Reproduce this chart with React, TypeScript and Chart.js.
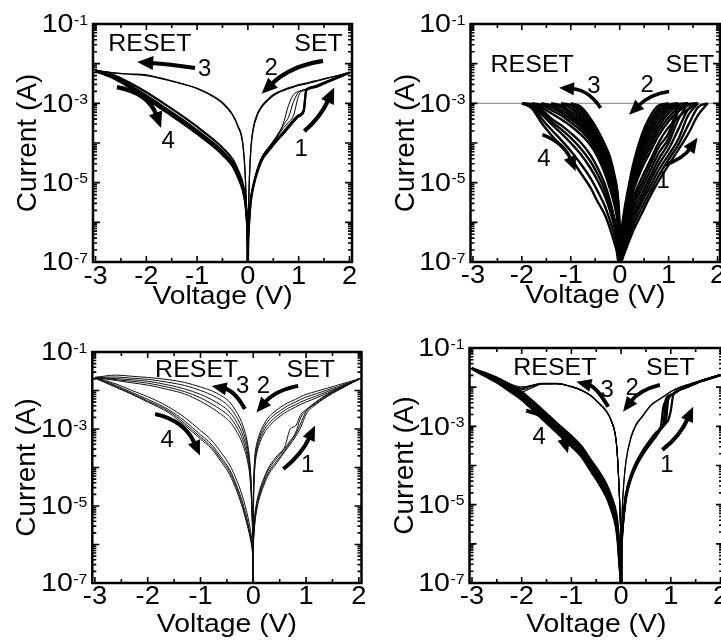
import React, { useEffect, useRef } from "react";
import { Chart, registerables } from "chart.js";

Chart.register(...registerables);

const FONT = '"Liberation Sans", Arial, Helvetica, sans-serif';

// ---------- axes / tick labels ----------
const X_MIN = -3.05;
const X_MAX = 2.05;
const Y_MIN = 1e-7;
const Y_MAX = 1e-1;
const X_TICKS = [-3, -2, -1, 0, 1, 2];
const X_TICK_LABELS = ["-3", "-2", "-1", "0", "1", "2"];
const X_MINOR_TICKS = [-2.5, -1.5, -0.5, 0.5, 1.5];
const Y_DECADES = [1e-7, 1e-6, 1e-5, 1e-4, 1e-3, 1e-2, 1e-1];
const Y_MINOR_MULT = [2, 3, 4, 5, 6, 7, 8, 9];
const Y_LABEL_VALUES = [1e-1, 1e-3, 1e-5, 1e-7];
const Y_LABEL_EXPONENTS = ["-1", "-3", "-5", "-7"];
const X_TITLE = "Voltage (V)";
const Y_TITLE = "Current (A)";

// ---------- data: voltage (V) grids and log10 of current (A) ----------
// Panel 1 (top-left)
const p1VPos = [0.0005, 0.002, 0.01, 0.03, 0.06, 0.1, 0.2, 0.3, 0.4, 0.5, 0.6, 0.7, 0.8, 0.9, 1.0, 1.1, 1.15, 1.3, 1.5, 1.7, 2.0];
const p1VNeg = [-0.0005, -0.002, -0.01, -0.03, -0.05, -0.1, -0.2, -0.3, -0.5, -0.7, -1.0, -1.3, -1.6, -2.0, -2.3, -2.6, -3.0];
const p1LrsPos = [
  [-7.5, -6.9, -5.89, -4.85, -4.1, -3.65, -3.22, -3.02, -2.89, -2.78, -2.71, -2.66, -2.61, -2.57, -2.53, -2.5, -2.49, -2.44, -2.38, -2.32, -2.22],
  [-7.5, -6.95, -5.95, -4.9, -4.15, -3.7, -3.26, -3.05, -2.92, -2.81, -2.73, -2.68, -2.63, -2.59, -2.55, -2.52, -2.51, -2.46, -2.39, -2.33, -2.22],
];
const p1SetMain = [
  [-7.5, -6.8, -6.3, -5.85, -5.4, -5.1, -4.63, -4.33, -4.17, -4.01, -3.87, -3.72, -3.57, -3.42, -3.3, -3.17, -2.65, -2.58, -2.48, -2.38, -2.23],
  [-7.5, -6.85, -6.35, -5.9, -5.45, -5.15, -4.68, -4.38, -4.21, -4.05, -3.9, -3.76, -3.61, -3.46, -3.33, -3.2, -2.67, -2.6, -2.5, -2.39, -2.23],
];
const p1SetThin = [
  [-7.5, -6.8, -6.3, -5.85, -5.4, -5.1, -4.6, -4.3, -4.12, -3.95, -3.75, -3.55, -3.35, -2.95, -2.72, -2.66, -2.64, -2.57, -2.47, -2.37, -2.23],
  [-7.5, -6.8, -6.3, -5.85, -5.4, -5.1, -4.62, -4.32, -4.14, -3.98, -3.8, -3.62, -3.48, -3.3, -2.8, -2.68, -2.66, -2.59, -2.48, -2.38, -2.23],
  [-7.5, -6.8, -6.3, -5.85, -5.4, -5.1, -4.6, -4.3, -4.12, -3.96, -3.78, -3.5, -3.05, -2.78, -2.7, -2.66, -2.64, -2.58, -2.47, -2.37, -2.23],
];
const p1LrsNeg = [
  [-7.5, -7.0, -6.4, -5.6, -4.85, -4.0, -3.55, -3.28, -2.98, -2.8, -2.62, -2.5, -2.4, -2.28, -2.26, -2.24, -2.17],
  [-7.5, -7.0, -6.45, -5.65, -4.9, -4.05, -3.58, -3.3, -3.0, -2.82, -2.63, -2.51, -2.41, -2.3, -2.27, -2.24, -2.17],
];
const p1HrsNeg = [
  [-7.5, -6.6, -6.1, -5.72, -5.45, -5.12, -4.76, -4.5, -4.21, -3.98, -3.68, -3.4, -3.14, -2.8, -2.56, -2.35, -2.18],
  [-7.5, -6.55, -6.05, -5.65, -5.38, -5.03, -4.67, -4.41, -4.12, -3.89, -3.59, -3.31, -3.05, -2.72, -2.5, -2.31, -2.17],
  [-7.5, -6.65, -6.15, -5.8, -5.53, -5.2, -4.85, -4.59, -4.3, -4.07, -3.77, -3.49, -3.23, -2.88, -2.63, -2.4, -2.19],
  [-7.5, -6.62, -6.12, -5.76, -5.49, -5.16, -4.8, -4.55, -4.26, -4.03, -3.73, -3.45, -3.19, -2.84, -2.6, -2.38, -2.18],
];

// Panel 2 (top-right), 1 mA compliance
const p2ComplianceV = [-3.05, 2.05];
const p2ComplianceLog = [-3, -3];
const p2VNeg = [-0.0005, -0.002, -0.01, -0.03, -0.06, -0.1, -0.2, -0.3, -0.45, -0.6, -0.8, -1.0, -1.2, -1.4, -1.6, -1.8, -2.0];
const p2VPos = [0.0005, 0.002, 0.01, 0.03, 0.06, 0.1, 0.2, 0.3, 0.45, 0.6, 0.8, 1.0, 1.2, 1.4, 1.6, 1.8, 2.0];
const p2LrsNeg = [
  [-7.5, -6.6, -5.9, -5.45, -5.1, -4.85, -4.35, -4.05, -3.68, -3.38, -3.08, -3.0],
  [-7.5, -6.65, -5.98, -5.52, -5.17, -4.92, -4.42, -4.12, -3.75, -3.45, -3.14, -3.0],
  [-7.5, -6.7, -6.05, -5.6, -5.25, -5.0, -4.5, -4.2, -3.82, -3.52, -3.2, -3.0],
  [-7.5, -6.75, -6.12, -5.68, -5.33, -5.06, -4.58, -4.27, -3.89, -3.59, -3.28, -3.05, -3.0],
  [-7.5, -6.8, -6.2, -5.75, -5.4, -5.12, -4.65, -4.33, -3.95, -3.65, -3.35, -3.12, -3.0],
  [-7.5, -6.82, -6.28, -5.82, -5.48, -5.2, -4.72, -4.4, -4.01, -3.71, -3.41, -3.2, -3.05, -3.0],
  [-7.5, -6.85, -6.35, -5.9, -5.55, -5.27, -4.8, -4.46, -4.07, -3.77, -3.48, -3.27, -3.1, -3.0],
  [-7.5, -6.88, -6.42, -5.98, -5.62, -5.35, -4.88, -4.53, -4.12, -3.82, -3.54, -3.33, -3.17, -3.05, -3.0],
  [-7.5, -6.9, -6.5, -6.05, -5.7, -5.42, -4.95, -4.6, -4.18, -3.87, -3.6, -3.4, -3.23, -3.1, -3.0],
  [-7.5, -6.95, -6.55, -6.12, -5.78, -5.5, -5.05, -4.68, -4.26, -3.95, -3.68, -3.48, -3.3, -3.17, -3.04, -3.0],
  [-7.5, -7.0, -6.6, -6.2, -5.85, -5.6, -5.15, -4.78, -4.35, -4.05, -3.78, -3.57, -3.4, -3.25, -3.1, -3.0],
];
const p2HrsNeg = [
  [-7.5, -7.1, -6.9, -6.5, -6.2, -5.95, -5.45, -5.05, -4.63, -4.3, -3.98, -3.75, -3.55, -3.38, -3.15, -3.0],
  [-7.5, -7.15, -6.95, -6.6, -6.3, -6.05, -5.58, -5.2, -4.79, -4.46, -4.13, -3.87, -3.65, -3.45, -3.21, -3.0],
  [-7.5, -7.2, -7.0, -6.7, -6.4, -6.15, -5.7, -5.35, -4.95, -4.63, -4.28, -4.0, -3.75, -3.52, -3.27, -3.02, -3.0],
  [-7.5, -7.25, -7.1, -6.85, -6.6, -6.35, -5.95, -5.6, -5.22, -4.88, -4.52, -4.2, -3.92, -3.66, -3.38, -3.06, -3.0],
  [-7.5, -7.3, -7.2, -7.0, -6.74, -6.55, -6.15, -5.82, -5.48, -5.12, -4.75, -4.38, -4.07, -3.8, -3.49, -3.12, -3.0],
];
const p2LrsPos = [
  [-7.5, -7.0, -6.8, -6.4, -6.0, -5.65, -4.98, -4.42, -3.8, -3.38, -3.05, -3.0],
  [-7.5, -7.0, -6.82, -6.45, -6.05, -5.72, -5.05, -4.51, -3.9, -3.49, -3.12, -3.0],
  [-7.5, -7.0, -6.85, -6.5, -6.1, -5.8, -5.12, -4.6, -4.0, -3.6, -3.2, -3.0],
  [-7.5, -7.05, -6.88, -6.52, -6.15, -5.85, -5.2, -4.69, -4.1, -3.7, -3.29, -3.04, -3.0],
  [-7.5, -7.1, -6.9, -6.55, -6.2, -5.9, -5.27, -4.78, -4.2, -3.8, -3.38, -3.1, -3.0],
  [-7.5, -7.1, -6.9, -6.58, -6.24, -5.95, -5.33, -4.86, -4.31, -3.91, -3.48, -3.17, -3.02, -3.0],
  [-7.5, -7.1, -6.9, -6.6, -6.28, -6.0, -5.4, -4.95, -4.42, -4.03, -3.58, -3.25, -3.05, -3.0],
  [-7.5, -7.15, -6.92, -6.65, -6.33, -6.05, -5.47, -5.03, -4.53, -4.15, -3.69, -3.35, -3.12, -3.02, -3.0],
  [-7.5, -7.2, -6.95, -6.7, -6.38, -6.1, -5.55, -5.12, -4.65, -4.28, -3.8, -3.45, -3.2, -3.05, -3.0],
  [-7.5, -7.2, -7.0, -6.75, -6.45, -6.2, -5.65, -5.3, -4.88, -4.5, -3.98, -3.6, -3.35, -3.15, -3.0],
];
const p2Set = [
  [-7.5, -7.2, -7.1, -6.9, -6.7, -6.45, -5.8, -5.42, -5.02, -4.62, -4.1, -3.75, -3.0],
  [-7.5, -7.2, -7.1, -6.92, -6.74, -6.5, -5.9, -5.53, -5.15, -4.76, -4.25, -3.88, -3.2, -3.0],
  [-7.5, -7.2, -7.1, -6.95, -6.78, -6.55, -6.0, -5.65, -5.28, -4.9, -4.4, -4.0, -3.4, -3.0],
  [-7.5, -7.25, -7.12, -6.97, -6.8, -6.6, -6.1, -5.78, -5.39, -5.02, -4.54, -4.15, -3.65, -3.15, -3.0],
  [-7.5, -7.3, -7.15, -7.0, -6.85, -6.65, -6.2, -5.9, -5.5, -5.15, -4.68, -4.3, -3.9, -3.3, -3.0],
  [-7.5, -7.3, -7.18, -7.02, -6.88, -6.7, -6.32, -6.02, -5.64, -5.28, -4.82, -4.42, -4.04, -3.55, -3.1, -3.0],
  [-7.5, -7.3, -7.2, -7.05, -6.9, -6.77, -6.45, -6.15, -5.78, -5.4, -4.95, -4.55, -4.17, -3.77, -3.3, -3.0],
];

// Panel 3 (bottom-left)
const p3VNeg = [-0.0005, -0.002, -0.01, -0.03, -0.06, -0.1, -0.2, -0.3, -0.45, -0.6, -0.8, -1.0, -1.3, -1.6, -2.0, -2.3, -2.6, -3.0];
const p3VPos = [0.0005, 0.002, 0.01, 0.03, 0.06, 0.1, 0.2, 0.3, 0.45, 0.6, 0.7, 0.8, 0.9, 1.0, 1.2, 1.4, 1.6, 1.8, 2.0];
const p3LrsNeg = [
  [-7.5, -6.4, -5.6, -4.69, -3.95, -3.45, -2.9, -2.6, -2.3, -2.14, -2.0, -1.91, -1.79, -1.72, -1.66, -1.63, -1.6, -1.66],
  [-7.5, -6.48, -5.68, -4.77, -4.04, -3.56, -3.03, -2.73, -2.43, -2.26, -2.11, -2.0, -1.87, -1.79, -1.71, -1.68, -1.65, -1.66],
  [-7.5, -6.55, -5.75, -4.85, -4.13, -3.68, -3.16, -2.86, -2.56, -2.39, -2.23, -2.1, -1.96, -1.86, -1.76, -1.72, -1.69, -1.66],
  [-7.5, -6.62, -5.82, -4.92, -4.22, -3.8, -3.28, -2.98, -2.68, -2.51, -2.34, -2.19, -2.03, -1.92, -1.81, -1.76, -1.72, -1.66],
  [-7.5, -6.7, -5.9, -5.0, -4.3, -3.9, -3.4, -3.1, -2.8, -2.63, -2.44, -2.28, -2.09, -1.98, -1.86, -1.8, -1.74, -1.66],
];
const p3HrsNeg = [
  [-7.5, -6.3, -6.05, -5.83, -5.58, -5.3, -4.77, -4.38, -3.93, -3.63, -3.28, -3.04, -2.7, -2.43, -2.16, -2.0, -1.83, -1.66],
  [-7.5, -6.4, -6.15, -5.95, -5.72, -5.45, -4.92, -4.52, -4.05, -3.75, -3.39, -3.15, -2.79, -2.5, -2.23, -2.05, -1.87, -1.66],
  [-7.5, -6.45, -6.2, -6.0, -5.77, -5.52, -5.0, -4.59, -4.11, -3.81, -3.45, -3.21, -2.85, -2.54, -2.27, -2.08, -1.9, -1.67],
  [-7.5, -6.5, -6.25, -6.05, -5.82, -5.58, -5.07, -4.66, -4.18, -3.87, -3.5, -3.26, -2.9, -2.58, -2.3, -2.1, -1.92, -1.68],
];
const p3LrsPos = [
  [-7.5, -5.5, -4.3, -3.7, -3.42, -3.2, -2.88, -2.68, -2.5, -2.36, -2.29, -2.23, -2.16, -2.1, -2.02, -1.94, -1.86, -1.78, -1.7],
  [-7.5, -5.6, -4.4, -3.8, -3.5, -3.28, -2.96, -2.76, -2.58, -2.44, -2.36, -2.3, -2.23, -2.17, -2.08, -1.99, -1.9, -1.8, -1.71],
  [-7.5, -5.7, -4.5, -3.9, -3.59, -3.36, -3.04, -2.85, -2.66, -2.51, -2.43, -2.37, -2.3, -2.24, -2.14, -2.03, -1.93, -1.82, -1.71],
  [-7.5, -5.8, -4.6, -4.0, -3.68, -3.45, -3.12, -2.93, -2.73, -2.58, -2.5, -2.43, -2.36, -2.3, -2.19, -2.07, -1.95, -1.83, -1.72],
];
const p3Set = [
  [-7.5, -6.2, -5.7, -5.3, -5.0, -4.75, -4.33, -4.03, -3.75, -3.5, -3.3, -3.1, -2.7, -2.52, -2.3, -2.12, -1.98, -1.84, -1.7],
  [-7.5, -6.1, -5.6, -5.22, -4.93, -4.68, -4.28, -3.98, -3.7, -3.45, -3.0, -2.92, -2.62, -2.5, -2.28, -2.1, -1.96, -1.83, -1.7],
  [-7.5, -6.25, -5.75, -5.38, -5.08, -4.82, -4.4, -4.1, -3.82, -3.55, -3.35, -3.15, -2.85, -2.55, -2.33, -2.14, -1.99, -1.85, -1.71],
  [-7.5, -6.3, -5.8, -5.45, -5.15, -4.88, -4.46, -4.16, -3.87, -3.58, -3.4, -3.2, -2.95, -2.62, -2.35, -2.16, -2.0, -1.85, -1.71],
];

// Panel 4 (bottom-right)
const p4VNeg = [-0.0005, -0.003, -0.01, -0.03, -0.06, -0.1, -0.2, -0.3, -0.45, -0.6, -0.8, -1.0, -1.3, -1.6, -1.8, -2.0, -2.2, -2.5, -2.75, -3.0];
const p4VPos = [0.0005, 0.003, 0.01, 0.025, 0.05, 0.1, 0.2, 0.3, 0.45, 0.6, 0.8, 1.0, 1.2, 1.4, 1.6, 1.8, 2.0];
const p4VSet = [0.0005, 0.003, 0.01, 0.03, 0.06, 0.1, 0.2, 0.3, 0.45, 0.6, 0.7, 0.8, 0.85, 0.9, 0.95, 1.0, 1.05, 1.2, 1.4, 1.6, 1.8, 2.0];
const p4LrsNeg = [
  [-7.5, -6.0, -5.55, -4.88, -4.03, -3.35, -2.84, -2.6, -2.4, -2.22, -2.07, -1.98, -1.9, -1.9, -1.96, -1.99, -1.93, -1.75, -1.64, -1.52],
  [-7.5, -6.1, -5.6, -4.92, -4.06, -3.38, -2.86, -2.62, -2.41, -2.23, -2.08, -1.99, -1.91, -1.91, -1.95, -2.04, -1.97, -1.77, -1.65, -1.52],
  [-7.5, -6.05, -5.58, -4.9, -4.05, -3.37, -2.85, -2.61, -2.41, -2.23, -2.08, -1.99, -1.91, -1.92, -2.02, -2.12, -2.05, -1.82, -1.67, -1.52],
  [-7.5, -6.05, -5.58, -4.9, -4.05, -3.37, -2.85, -2.61, -2.41, -2.23, -2.08, -1.99, -1.91, -1.91, -1.99, -2.07, -2.0, -1.79, -1.66, -1.52],
  [-7.5, -6.05, -5.58, -4.9, -4.05, -3.37, -2.85, -2.61, -2.41, -2.23, -2.08, -1.99, -1.91, -1.92, -1.97, -2.02, -1.96, -1.76, -1.65, -1.52],
];
const p4HrsNeg = [
  [-7.5, -6.9, -6.55, -6.2, -5.65, -5.22, -4.78, -4.47, -4.15, -3.88, -3.51, -3.25, -2.91, -2.56, -2.33, -2.12, -1.98, -1.76, -1.63, -1.52],
  [-7.5, -6.95, -6.62, -6.3, -5.75, -5.3, -4.86, -4.55, -4.22, -3.95, -3.57, -3.31, -2.97, -2.62, -2.39, -2.17, -2.02, -1.79, -1.65, -1.52],
  [-7.5, -7.0, -6.7, -6.4, -5.85, -5.4, -4.95, -4.63, -4.3, -4.02, -3.64, -3.38, -3.03, -2.68, -2.45, -2.22, -2.06, -1.82, -1.67, -1.52],
  [-7.5, -7.05, -6.78, -6.5, -5.95, -5.5, -5.04, -4.71, -4.38, -4.09, -3.71, -3.45, -3.09, -2.74, -2.5, -2.27, -2.1, -1.85, -1.69, -1.53],
  [-7.5, -7.1, -6.85, -6.6, -6.05, -5.6, -5.12, -4.79, -4.45, -4.16, -3.77, -3.51, -3.15, -2.8, -2.55, -2.32, -2.14, -1.88, -1.71, -1.53],
];
const p4LrsPos = [
  [-7.5, -6.0, -5.6, -5.05, -4.5, -3.85, -3.26, -2.95, -2.7, -2.45, -2.28, -2.11, -1.99, -1.91, -1.83, -1.76, -1.69],
  [-7.5, -6.1, -5.65, -5.1, -4.55, -3.9, -3.3, -2.98, -2.72, -2.47, -2.29, -2.12, -2.0, -1.92, -1.84, -1.76, -1.69],
];
const p4Set = [
  [-7.5, -6.5, -6.0, -5.55, -5.15, -4.75, -4.27, -3.96, -3.63, -3.36, -3.2, -3.03, -2.95, -2.3, -2.22, -2.2, -2.17, -2.05, -1.95, -1.85, -1.77, -1.69],
  [-7.5, -6.55, -6.05, -5.6, -5.2, -4.8, -4.31, -4.0, -3.67, -3.4, -3.23, -3.06, -2.98, -2.9, -2.3, -2.21, -2.17, -2.05, -1.95, -1.85, -1.77, -1.69],
  [-7.5, -6.45, -5.95, -5.5, -5.1, -4.71, -4.23, -3.92, -3.59, -3.32, -3.16, -3.0, -2.5, -2.35, -2.25, -2.2, -2.17, -2.05, -1.95, -1.85, -1.77, -1.69],
  [-7.5, -6.6, -6.1, -5.63, -5.23, -4.83, -4.34, -4.03, -3.7, -3.43, -3.26, -3.08, -3.0, -2.92, -2.84, -2.6, -2.2, -2.06, -1.96, -1.85, -1.77, -1.69],
  [-7.5, -6.5, -6.0, -5.57, -5.17, -4.77, -4.29, -3.98, -3.65, -3.38, -3.22, -3.05, -2.96, -2.6, -2.3, -2.22, -2.18, -2.05, -1.95, -1.85, -1.77, -1.69],
];

// ---------- panel layout ----------
type Series = { v: number[]; l: number[]; w: number; c?: string };
type Pt = [number, number]; // [V, log10 I]
type Lab = { t: string; p: Pt; align: CanvasTextAlign; size: number };
type PanelDef = {
  box: number[];
  area: number[];
  tickDy: number;
  titleDy: number;
  series: Series[];
  labels: Lab[];
  arrows: Pt[][];
  arrowW: number;
  headL: number;
  headW: number;
};

const many = (v: number[], ls: number[][], w: number, c?: string): Series[] => ls.map((l) => ({ v, l, w, c }));

const stdLabels = (reset: Pt, set: Pt, n3: Pt, n2: Pt, n4: Pt, n1: Pt): Lab[] => [
  { t: "RESET", p: reset, align: "left", size: 24 },
  { t: "SET", p: set, align: "right", size: 24 },
  { t: "3", p: n3, align: "center", size: 23 },
  { t: "2", p: n2, align: "center", size: 23 },
  { t: "4", p: n4, align: "center", size: 23 },
  { t: "1", p: n1, align: "center", size: 23 },
];

const PANELS: PanelDef[] = [
  {
    box: [0, 0, 370, 322],
    area: [93, 24, 352, 262],
    tickDy: 21.5,
    titleDy: 42,
    series: [
      ...many(p1VPos, p1SetThin, 1),
      ...many(p1VPos, p1SetMain, 2.2),
      ...many(p1VPos, p1LrsPos, 1.2),
      ...many(p1VNeg, p1LrsNeg, 1.2),
      ...many(p1VNeg, p1HrsNeg, 2.2),
    ],
    labels: stdLabels([-2.75, -1.68], [1.87, -1.68], [-0.85, -2.31], [0.46, -2.29], [-1.57, -4.13], [1.05, -4.33]),
    arrows: [
      [[-1.04, -2.11], [-1.57, -2.01], [-2.18, -1.96]],
      [[1.48, -1.93], [0.83, -2.06], [0.27, -2.76]],
      [[-2.58, -2.59], [-1.96, -2.74], [-1.71, -3.62]],
      [[1.11, -3.7], [1.42, -3.37], [1.7, -2.6]],
    ],
    arrowW: 4.2,
    headL: 16,
    headW: 14,
  },
  {
    box: [360, 0, 380, 322],
    area: [470.5, 24, 720, 262],
    tickDy: 21,
    titleDy: 41,
    series: [
      ...many(p2VNeg, p2LrsNeg, 2.4),
      ...many(p2VNeg, p2HrsNeg, 2.4),
      ...many(p2VPos, p2LrsPos, 2.4),
      ...many(p2VPos, p2Set, 2.3),
      { v: p2ComplianceV, l: p2ComplianceLog, w: 1.2, c: "#9c9c9c" },
    ],
    labels: stdLabels([-2.64, -2.2], [1.93, -2.2], [-0.53, -2.74], [0.56, -2.71], [-1.55, -4.59], [0.89, -5.13]),
    arrows: [
      [[-0.39, -3.12], [-0.63, -2.66], [-1.24, -2.61]],
      [[1.01, -2.7], [0.63, -2.76], [0.19, -3.29]],
      [[-1.58, -3.79], [-1.14, -4.0], [-0.9, -4.71]],
      [[0.94, -4.55], [1.31, -4.38], [1.59, -3.87]],
    ],
    arrowW: 3.6,
    headL: 15,
    headW: 13,
  },
  {
    box: [0, 322, 370, 322],
    area: [92.3, 352, 361.5, 583],
    tickDy: 20.5,
    titleDy: 48.5,
    series: [
      ...many(p3VNeg, p3LrsNeg, 1, "#111"),
      ...many(p3VNeg, p3HrsNeg, 1, "#111"),
      ...many(p3VPos, p3LrsPos, 1, "#111"),
      ...many(p3VPos, p3Set, 1, "#111"),
    ],
    labels: stdLabels([-1.86, -1.66], [1.55, -1.66], [-0.2, -2.07], [0.19, -2.07], [-1.63, -3.48], [1.03, -4.12]),
    arrows: [
      [[-0.16, -2.48], [-0.35, -2.0], [-0.79, -1.88]],
      [[0.85, -1.88], [0.41, -2.0], [0.06, -2.57]],
      [[-1.86, -2.61], [-1.3, -2.78], [-1.01, -3.69]],
      [[0.57, -4.04], [0.92, -3.65], [1.17, -2.91]],
    ],
    arrowW: 4,
    headL: 15,
    headW: 13,
  },
  {
    box: [360, 322, 380, 322],
    area: [469.5, 348, 723, 583],
    tickDy: 20.5,
    titleDy: 48.5,
    series: [
      ...many(p4VNeg, p4LrsNeg, 1.1),
      ...many(p4VNeg, p4HrsNeg, 2.4),
      ...many(p4VPos, p4LrsPos, 1.1),
      ...many(p4VSet, p4Set, 2.2),
    ],
    labels: stdLabels([-2.17, -1.69], [1.48, -1.69], [-0.28, -2.24], [0.22, -2.2], [-1.65, -3.45], [0.92, -4.16]),
    arrows: [
      [[-0.26, -2.5], [-0.5, -1.99], [-0.9, -1.86]],
      [[0.78, -1.94], [0.37, -2.07], [0.04, -2.63]],
      [[-1.91, -2.6], [-1.27, -2.8], [-1.07, -3.69]],
      [[0.83, -3.6], [1.18, -3.26], [1.45, -2.5]],
    ],
    arrowW: 4,
    headL: 15,
    headW: 13,
  },
];

// ---------- drawing helpers ----------
function drawText(
  ctx: CanvasRenderingContext2D,
  s: string,
  x: number,
  y: number,
  size: number,
  align: CanvasTextAlign,
  baseline: CanvasTextBaseline,
  sx = 1
) {
  ctx.save();
  ctx.font = `${size}px ${FONT}`;
  ctx.textAlign = align;
  ctx.textBaseline = baseline;
  ctx.translate(x, y);
  ctx.scale(sx, 1);
  ctx.fillText(s, 0, 0);
  ctx.restore();
}

function makeDecor(def: PanelDef) {
  return {
    id: "decor",
    afterDatasetsDraw(chart: any) {
      const ctx: CanvasRenderingContext2D = chart.ctx;
      const a = chart.chartArea;
      const xs = chart.scales.x;
      const ys = chart.scales.y;
      const X = (v: number) => xs.getPixelForValue(v);
      const Yv = (i: number) => ys.getPixelForValue(i);
      const YL = (l: number) => ys.getPixelForValue(Math.pow(10, l));
      ctx.save();
      ctx.strokeStyle = "#000";
      ctx.fillStyle = "#000";

      // inward ticks on all four sides
      ctx.lineWidth = 1.6;
      ctx.beginPath();
      const seg = (x1: number, y1: number, x2: number, y2: number) => {
        ctx.moveTo(x1, y1);
        ctx.lineTo(x2, y2);
      };
      for (const v of X_TICKS) {
        const x = X(v);
        seg(x, a.bottom, x, a.bottom - 6);
        seg(x, a.top, x, a.top + 6);
      }
      for (const v of X_MINOR_TICKS) {
        const x = X(v);
        seg(x, a.bottom, x, a.bottom - 4);
        seg(x, a.top, x, a.top + 4);
      }
      for (const d of Y_DECADES) {
        const y = Yv(d);
        seg(a.left, y, a.left + 7, y);
        seg(a.right, y, a.right - 7, y);
      }
      for (let k = 0; k < Y_DECADES.length - 1; k++) {
        for (const m of Y_MINOR_MULT) {
          const y = Yv(m * Y_DECADES[k]);
          seg(a.left, y, a.left + 4, y);
          seg(a.right, y, a.right - 4, y);
        }
      }
      ctx.stroke();

      // frame
      ctx.lineWidth = 2.5;
      ctx.strokeRect(a.left, a.top, a.right - a.left, a.bottom - a.top);

      // x tick labels
      X_TICKS.forEach((v, i) => {
        drawText(ctx, X_TICK_LABELS[i], X(v), a.bottom + def.tickDy, 25, "center", "alphabetic", 1.09);
      });
      // y tick labels 10^n
      Y_LABEL_VALUES.forEach((val, i) => {
        const y = Yv(val);
        const exp = Y_LABEL_EXPONENTS[i];
        ctx.font = `15px ${FONT}`;
        const supW = ctx.measureText(exp).width * 1.05;
        const right = a.left - 5;
        drawText(ctx, exp, right - supW, y + 0.5, 15, "left", "alphabetic", 1.05);
        drawText(ctx, "10", right - supW - 0.5, y + 1, 26, "right", "middle", 1.1);
      });
      // axis titles
      drawText(ctx, X_TITLE, (a.left + a.right) / 2, a.bottom + def.titleDy, 26, "center", "alphabetic", 1.09);
      ctx.save();
      ctx.translate(a.left - 57, (a.top + a.bottom) / 2);
      ctx.rotate(-Math.PI / 2);
      ctx.font = `28px ${FONT}`;
      ctx.textAlign = "center";
      ctx.textBaseline = "alphabetic";
      ctx.fillText(Y_TITLE, 0, 0);
      ctx.restore();

      // annotations
      for (const lb of def.labels) {
        drawText(ctx, lb.t, X(lb.p[0]), YL(lb.p[1]), lb.size, lb.align, "alphabetic", 1.04);
      }
      for (const [f, c, t] of def.arrows) {
        const p0 = [X(f[0]), YL(f[1])];
        const p1 = [X(c[0]), YL(c[1])];
        const p2 = [X(t[0]), YL(t[1])];
        let dx = p2[0] - p1[0];
        let dy = p2[1] - p1[1];
        const n = Math.hypot(dx, dy) || 1;
        dx /= n;
        dy /= n;
        const bx = p2[0] - dx * def.headL;
        const by = p2[1] - dy * def.headL;
        ctx.lineWidth = def.arrowW;
        ctx.lineCap = "butt";
        ctx.beginPath();
        ctx.moveTo(p0[0], p0[1]);
        ctx.quadraticCurveTo(p1[0], p1[1], bx + dx * 2, by + dy * 2);
        ctx.stroke();
        ctx.beginPath();
        ctx.moveTo(p2[0], p2[1]);
        ctx.lineTo(bx - (dy * def.headW) / 2, by + (dx * def.headW) / 2);
        ctx.lineTo(bx + (dy * def.headW) / 2, by - (dx * def.headW) / 2);
        ctx.closePath();
        ctx.fill();
      }
      ctx.restore();
    },
  };
}

function PanelChart({ def }: { def: PanelDef }) {
  const ref = useRef<HTMLCanvasElement>(null);
  useEffect(() => {
    if (!ref.current) return;
    const [bx, by, bw, bh] = def.box;
    const [al, at, ar, ab] = def.area;
    const datasets = def.series.map((s) => ({
      data: s.l.map((l, i) => ({ x: s.v[i], y: Math.pow(10, l) })),
      borderColor: s.c || "#000",
      backgroundColor: s.c || "#000",
      borderWidth: s.w,
      pointRadius: 0,
      pointHoverRadius: 0,
      showLine: true,
      fill: false,
      cubicInterpolationMode: "monotone" as const,
    }));
    const chart = new Chart(ref.current, {
      type: "scatter",
      data: { datasets },
      options: {
        responsive: false,
        animation: false,
        devicePixelRatio: 1,
        events: [],
        layout: {
          padding: { left: al - bx, top: at - by, right: bx + bw - ar, bottom: by + bh - ab },
        },
        plugins: { legend: { display: false }, tooltip: { enabled: false } },
        scales: {
          x: { type: "linear", min: X_MIN, max: X_MAX, display: false },
          y: { type: "logarithmic", min: Y_MIN, max: Y_MAX, display: false },
        },
      },
      plugins: [makeDecor(def)],
    });
    return () => chart.destroy();
  }, [def]);
  return (
    <canvas
      ref={ref}
      width={def.box[2]}
      height={def.box[3]}
      style={{ position: "absolute", left: def.box[0], top: def.box[1], width: def.box[2], height: def.box[3] }}
    />
  );
}

export default function App() {
  useEffect(() => {
    document.body.style.margin = "0";
  }, []);
  return (
    <div
      style={{
        position: "absolute",
        left: 0,
        top: 0,
        width: 721,
        height: 644,
        overflow: "hidden",
        background: "#fff",
      }}
    >
      {PANELS.map((p, i) => (
        <PanelChart key={i} def={p} />
      ))}
    </div>
  );
}
